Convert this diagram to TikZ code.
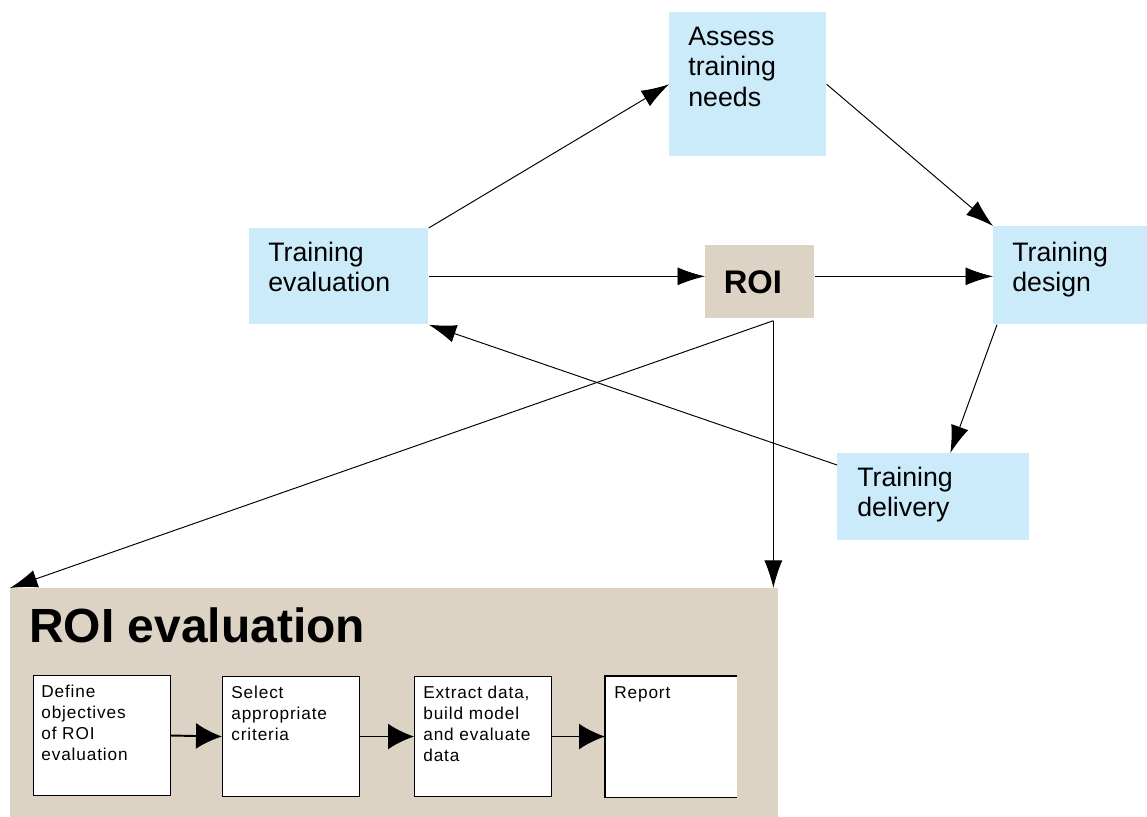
\documentclass[tikz,border=0pt]{standalone}
\usepackage{fontspec}
\setmainfont{Liberation Sans}
\usetikzlibrary{positioning,arrows.meta}

\definecolor{needblue}{HTML}{CCEBFA}
\definecolor{roisand}{HTML}{DDD3C5}

\tikzset{
  bluebox/.style={fill=needblue,anchor=north west,inner sep=0},
  sandbox/.style={fill=roisand,anchor=north west,inner sep=0},
  stagebox/.style={fill=white,draw=black,line width=0.6pt,anchor=north west,inner sep=0,minimum width=2.74cm,minimum height=2.40cm},
  bigtxt/.style={anchor=north west,inner sep=0,align=left,font=\fontsize{15.2}{17.2}\selectfont},
  smalltxt/.style={anchor=north west,inner sep=0,align=left,font=\fontsize{9.8}{11.9}\selectfont\addfontfeatures{LetterSpace=5}},
  flow/.style={line width=0.55pt,-{Latex[length=0.55cm,width=0.36cm]}},
  stageflow/.style={line width=1.1pt,-{Latex[length=0.52cm,width=0.52cm]}}
}

\begin{document}
\begin{tikzpicture}
\useasboundingbox (0,0) rectangle (22.94,16.34);

% upper cycle
\node[bluebox,minimum width=3.14cm,minimum height=2.88cm] (assess) at (13.38,16.10) {};
\node[bluebox,minimum width=3.58cm,minimum height=1.92cm] (evaluation) at (4.98,11.78) {};
\node[sandbox,minimum width=2.18cm,minimum height=1.46cm] (roi) at (14.10,11.44) {};
\node[bluebox,minimum width=3.08cm,minimum height=1.96cm] (design) at (19.86,11.82) {};
\node[bluebox,minimum width=3.84cm,minimum height=1.74cm] (delivery) at (16.74,7.28) {};

\node[font=\fontsize{18.6}{20}\selectfont\bfseries,inner sep=0] (roiT) at ([xshift=-0.14cm]roi.center) {ROI};
\node[bigtxt] (assessT) at (13.76,15.80) {Assess\\training\\needs};
\node[bigtxt] (evaluationT) at (5.36,11.50) {Training\\evaluation};
\node[bigtxt] (designT) at (20.24,11.50) {Training\\design};
\node[bigtxt] (deliveryT) at (17.14,7.00) {Training\\delivery};

% ROI evaluation panel
\node[sandbox,minimum width=15.36cm,minimum height=4.58cm] (panel) at (0.20,4.58) {};
\node[anchor=north west,inner sep=0,font=\fontsize{27.3}{30}\selectfont\bfseries] (panelT) at (0.58,4.20) {ROI evaluation};

\node[stagebox] (define) at (0.66,2.84) {};
\node[stagebox] (select) at (4.44,2.82) {};
\node[stagebox] (extract) at (8.28,2.82) {};
\node[stagebox,draw=none,minimum width=2.62cm] (report) at (12.10,2.82) {};
\draw[line width=0.6pt] (report.north east) -- (report.north west) -- (report.south west) -- (report.south east);

\node[smalltxt] (defineT) at (0.82,2.64) {Define\\objectives\\of ROI\\evaluation};
\node[smalltxt] (selectT) at (4.62,2.62) {Select\\appropriate\\criteria};
\node[smalltxt] (extractT) at (8.46,2.62) {Extract data,\\build model\\and evaluate\\data};
\node[smalltxt] (reportT) at (12.28,2.62) {Report};

% connectors
\draw[flow] (evaluation.north east) -- (assess.west);
\draw[flow] (assess.east) -- (design.north west);
\draw[flow] (evaluation.east) -- (roi.west |- evaluation.east);
\draw[flow] (roi.east |- evaluation.east) -- (design.west |- evaluation.east);
\draw[flow] ([xshift=0.08cm]design.south west) -- ([xshift=0.34cm]delivery.north);
\draw[flow] ([yshift=-0.24cm]delivery.north west) -- (evaluation.south east);
\coordinate (roifoot) at ([xshift=0.27cm,yshift=-0.04cm]roi.south);
\draw[flow] (roifoot) -- (panel.north west);
\draw[flow] (roifoot) -- (roifoot |- panel.north);

\draw[stageflow] (define.east) -- (select.west);
\draw[stageflow] (select.east) -- (extract.west);
\draw[stageflow] (extract.east) -- (report.west);
\end{tikzpicture}
\end{document}
